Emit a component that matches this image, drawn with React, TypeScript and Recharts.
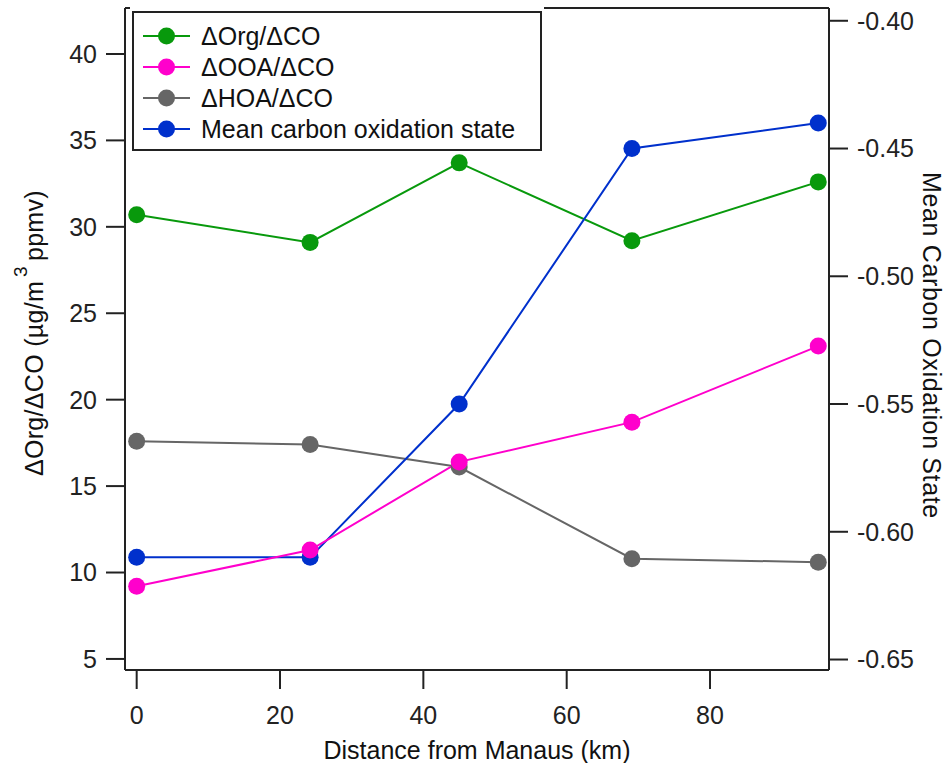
import { LineChart, Line, XAxis, YAxis, Legend, ReferenceLine } from 'recharts'

// distance from Manaus (km) and the four measured series
const distanceKm = [0, 24.2, 45.0, 69.1, 95.1]
const orgToCO = [30.7, 29.1, 33.7, 29.2, 32.6]
const ooaToCO = [9.2, 11.3, 16.4, 18.7, 23.1]
const hoaToCO = [17.6, 17.4, 16.1, 10.8, 10.6]
const meanOSc = [-0.61, -0.61, -0.55, -0.45, -0.44]

const xTicks = [0, 20, 40, 60, 80]
const leftTicks = [5, 10, 15, 20, 25, 30, 35, 40]
const rightTicks = [-0.65, -0.6, -0.55, -0.5, -0.45, -0.4]

const FONT = '"Liberation Sans", Arial, Helvetica, sans-serif'
const AXIS = '#222'
const FS = 25

const series = [
  { key: 'org', name: 'ΔOrg/ΔCO', color: '#08990c', axis: 'left' },
  { key: 'ooa', name: 'ΔOOA/ΔCO', color: '#ff00cc', axis: 'left' },
  { key: 'hoa', name: 'ΔHOA/ΔCO', color: '#666666', axis: 'left' },
  { key: 'osc', name: 'Mean carbon oxidation state', color: '#0030cc', axis: 'right' },
]
// drawing order so pink sits on top of gray / blue where they meet
const drawOrder = ['org', 'hoa', 'osc', 'ooa']

const rows = distanceKm.map((d, i) => ({
  distance: d,
  org: orgToCO[i],
  ooa: ooaToCO[i],
  hoa: hoaToCO[i],
  osc: meanOSc[i],
}))

const tickStyle = { fontSize: FS, fill: AXIS, fontFamily: FONT }

function LegendBox() {
  return (
    <svg width={414} height={148} style={{ display: 'block' }}>
      <rect x={3} y={6} width={408} height={138} fill="#fff" stroke={AXIS} strokeWidth={2} />
      {series.map((s, i) => {
        const cy = 30 + i * 31
        return (
          <g key={s.key}>
            <line x1={13} x2={60} y1={cy} y2={cy} stroke={s.color} strokeWidth={2} />
            <circle cx={36.5} cy={cy} r={8.5} fill={s.color} />
            <text x={71} y={cy} dominantBaseline="central" fontSize={FS} fontFamily={FONT} fill="#111">
              {s.name}
            </text>
          </g>
        )
      })}
    </svg>
  )
}

const LeftLabel = () => (
  <text
    x={43}
    y={476}
    transform="rotate(-90, 43, 476)"
    fontSize={FS}
    fontFamily={FONT}
    fill="#111"
    letterSpacing={0.3}
  >
    ΔOrg/ΔCO (µg/m
    <tspan dy={-16} dx={4} fontSize={19}>3</tspan>
    <tspan dy={16} dx={5}>ppmv)</tspan>
  </text>
)

const RightLabel = () => (
  <text
    x={923}
    y={172}
    transform="rotate(90, 923, 172)"
    fontSize={FS}
    fontFamily={FONT}
    fill="#111"
    letterSpacing={0.65}
  >
    Mean Carbon Oxidation State
  </text>
)

const BottomLabel = () => (
  <text x={477} y={759} textAnchor="middle" fontSize={FS} fontFamily={FONT} fill="#111">
    Distance from Manaus (km)
  </text>
)

export default function App() {
  return (
    <div style={{ width: 947, height: 763 }}>
      <style>{'body{margin:0;background:#fff}'}</style>
      <LineChart width={947} height={763} data={rows} margin={{ top: 8, right: 0, bottom: 0, left: 0 }}>
        <XAxis
          dataKey="distance"
          type="number"
          domain={[-1.63, 96.6]}
          ticks={xTicks}
          allowDataOverflow
          height={93}
          axisLine={{ stroke: AXIS, strokeWidth: 2 }}
          tickLine={{ stroke: AXIS, strokeWidth: 2 }}
          tickSize={19}
          tickMargin={17}
          tick={tickStyle}
          label={BottomLabel}
        />
        <YAxis
          yAxisId="left"
          orientation="left"
          type="number"
          domain={[4.36, 42.66]}
          ticks={leftTicks}
          allowDataOverflow
          width={125}
          axisLine={{ stroke: AXIS, strokeWidth: 2 }}
          tickLine={{ stroke: AXIS, strokeWidth: 2 }}
          tickSize={19}
          tickMargin={9}
          tick={tickStyle}
          label={LeftLabel}
        />
        <YAxis
          yAxisId="right"
          orientation="right"
          type="number"
          domain={[-0.6541, -0.395]}
          ticks={rightTicks}
          allowDataOverflow
          width={118}
          axisLine={{ stroke: AXIS, strokeWidth: 2 }}
          tickLine={{ stroke: AXIS, strokeWidth: 2 }}
          tickSize={19}
          tickMargin={9}
          tick={tickStyle}
          tickFormatter={(v: number) => v.toFixed(2)}
          label={RightLabel}
        />
        <ReferenceLine yAxisId="left" y={42.66} stroke={AXIS} strokeWidth={2} />
        {drawOrder.map((k) => {
          const s = series.find((x) => x.key === k)!
          return (
            <Line
              key={s.key}
              yAxisId={s.axis}
              dataKey={s.key}
              name={s.name}
              type="linear"
              stroke={s.color}
              strokeWidth={2}
              dot={{ r: 8.5, fill: s.color, stroke: 'none' }}
              activeDot={false}
              isAnimationActive={false}
            />
          )
        })}
        <Legend
          layout="horizontal"
          verticalAlign="middle"
          align="center"
          content={LegendBox}
          wrapperStyle={{ left: 130, top: 6, width: 414, height: 148, background: '#fff' }}
        />
      </LineChart>
    </div>
  )
}
